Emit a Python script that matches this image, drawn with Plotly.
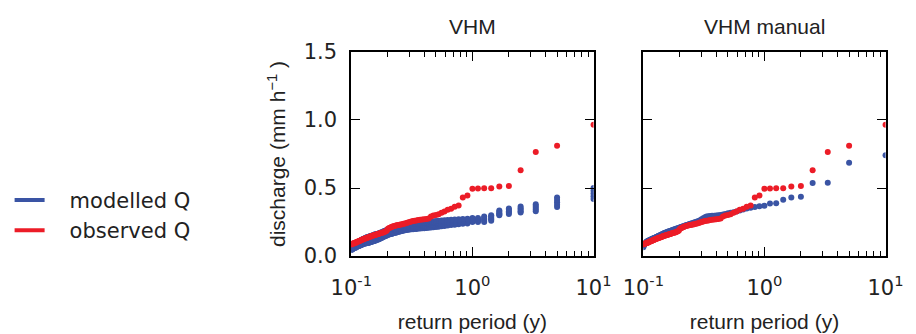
import plotly.graph_objects as go

# return periods (years) of the ranked events
return_period = [10.0, 5.0, 3.333, 2.5, 2.0, 1.667, 1.429, 1.25, 1.111, 1.0,
                 0.909, 0.833, 0.769, 0.714, 0.667, 0.625, 0.588, 0.556, 0.526, 0.5,
                 0.476, 0.455, 0.435, 0.417, 0.4, 0.385, 0.37, 0.357, 0.345, 0.333,
                 0.323, 0.3125, 0.303, 0.294, 0.286, 0.278, 0.27, 0.263, 0.256, 0.25,
                 0.244, 0.238, 0.233, 0.227, 0.222, 0.217, 0.213, 0.208, 0.204, 0.2,
                 0.196, 0.192, 0.189, 0.185, 0.182, 0.179, 0.175, 0.172, 0.169, 0.167,
                 0.164, 0.161, 0.159, 0.156, 0.154, 0.152, 0.149, 0.147, 0.145, 0.143,
                 0.141, 0.139, 0.137, 0.135, 0.133, 0.132, 0.13, 0.128, 0.127, 0.125,
                 0.123, 0.122, 0.12, 0.119, 0.118, 0.116, 0.115, 0.114, 0.112, 0.111,
                 0.11, 0.109, 0.108, 0.106, 0.105, 0.104, 0.103, 0.102, 0.101, 0.1]

observed_q = [0.965, 0.81, 0.765, 0.63, 0.515, 0.512, 0.498, 0.498, 0.497, 0.495,
              0.445, 0.43, 0.372, 0.362, 0.348, 0.34, 0.328, 0.318, 0.308, 0.302,
              0.298, 0.29, 0.276, 0.272, 0.27, 0.268, 0.267, 0.265, 0.262, 0.26,
              0.257, 0.254, 0.25, 0.247, 0.244, 0.24, 0.237, 0.234, 0.232, 0.23,
              0.228, 0.226, 0.224, 0.222, 0.22, 0.216, 0.212, 0.208, 0.205, 0.2,
              0.186, 0.182, 0.179, 0.176, 0.173, 0.171, 0.169, 0.167, 0.165, 0.163,
              0.161, 0.159, 0.157, 0.155, 0.153, 0.151, 0.149, 0.147, 0.145, 0.143,
              0.141, 0.139, 0.137, 0.135, 0.133, 0.131, 0.129, 0.127, 0.125, 0.123,
              0.121, 0.119, 0.117, 0.115, 0.113, 0.111, 0.109, 0.107, 0.105, 0.103,
              0.101, 0.099, 0.097, 0.095, 0.094, 0.093, 0.092, 0.09, 0.088, 0.085]

# VHM ensemble (five parameter sets)
vhm_run1 = [0.50, 0.43, 0.38, 0.365, 0.35, 0.335, 0.30, 0.29, 0.28, 0.28,
            0.275, 0.273, 0.271, 0.269, 0.267, 0.265, 0.263, 0.262, 0.26, 0.258,
            0.256, 0.254, 0.251, 0.248, 0.245, 0.243, 0.241, 0.24, 0.238, 0.237,
            0.236, 0.235, 0.232, 0.229, 0.226, 0.224, 0.222, 0.22, 0.218, 0.215,
            0.213, 0.211, 0.209, 0.207, 0.205, 0.203, 0.201, 0.199, 0.197, 0.195,
            0.191, 0.188, 0.185, 0.182, 0.179, 0.176, 0.173, 0.17, 0.167, 0.165,
            0.163, 0.161, 0.16, 0.158, 0.156, 0.154, 0.152, 0.15, 0.148, 0.146,
            0.144, 0.142, 0.14, 0.138, 0.136, 0.134, 0.132, 0.13, 0.128, 0.125,
            0.122, 0.119, 0.116, 0.113, 0.11, 0.107, 0.104, 0.102, 0.1, 0.098,
            0.096, 0.094, 0.092, 0.09, 0.088, 0.086, 0.084, 0.082, 0.08, 0.078]
vhm_run2 = [0.48, 0.412, 0.368, 0.352, 0.34, 0.325, 0.29, 0.28, 0.272, 0.272,
            0.266, 0.264, 0.261, 0.259, 0.257, 0.255, 0.252, 0.251, 0.249, 0.247,
            0.245, 0.243, 0.24, 0.238, 0.235, 0.233, 0.231, 0.23, 0.228, 0.227,
            0.226, 0.225, 0.223, 0.22, 0.217, 0.215, 0.213, 0.211, 0.209, 0.206,
            0.204, 0.202, 0.2, 0.197, 0.195, 0.193, 0.191, 0.189, 0.187, 0.185,
            0.181, 0.178, 0.175, 0.172, 0.168, 0.165, 0.162, 0.159, 0.156, 0.154,
            0.152, 0.15, 0.148, 0.146, 0.144, 0.142, 0.14, 0.138, 0.136, 0.134,
            0.133, 0.131, 0.129, 0.127, 0.125, 0.124, 0.122, 0.12, 0.118, 0.115,
            0.113, 0.11, 0.107, 0.104, 0.102, 0.099, 0.096, 0.094, 0.092, 0.09,
            0.088, 0.086, 0.084, 0.082, 0.08, 0.078, 0.076, 0.074, 0.072, 0.069]
vhm_run3 = [0.46, 0.395, 0.355, 0.34, 0.33, 0.315, 0.28, 0.27, 0.265, 0.265,
            0.258, 0.255, 0.252, 0.25, 0.247, 0.245, 0.242, 0.24, 0.238, 0.236,
            0.234, 0.232, 0.23, 0.228, 0.225, 0.223, 0.222, 0.221, 0.219, 0.218,
            0.217, 0.216, 0.214, 0.212, 0.209, 0.207, 0.205, 0.203, 0.2, 0.198,
            0.195, 0.193, 0.191, 0.188, 0.186, 0.184, 0.181, 0.179, 0.177, 0.175,
            0.171, 0.168, 0.165, 0.162, 0.158, 0.155, 0.152, 0.149, 0.146, 0.143,
            0.141, 0.139, 0.137, 0.135, 0.133, 0.131, 0.129, 0.127, 0.125, 0.123,
            0.122, 0.12, 0.118, 0.117, 0.115, 0.114, 0.112, 0.111, 0.109, 0.106,
            0.104, 0.101, 0.099, 0.096, 0.094, 0.091, 0.089, 0.087, 0.085, 0.083,
            0.081, 0.079, 0.077, 0.075, 0.073, 0.071, 0.069, 0.066, 0.064, 0.061]
vhm_run4 = [0.44, 0.378, 0.342, 0.33, 0.32, 0.307, 0.27, 0.26, 0.257, 0.257,
            0.249, 0.246, 0.243, 0.24, 0.237, 0.235, 0.232, 0.229, 0.227, 0.224,
            0.223, 0.221, 0.219, 0.217, 0.215, 0.213, 0.212, 0.211, 0.209, 0.208,
            0.207, 0.207, 0.205, 0.203, 0.2, 0.198, 0.196, 0.194, 0.191, 0.189,
            0.186, 0.184, 0.181, 0.179, 0.176, 0.174, 0.171, 0.169, 0.167, 0.165,
            0.161, 0.158, 0.155, 0.152, 0.148, 0.145, 0.142, 0.138, 0.135, 0.132,
            0.13, 0.128, 0.126, 0.124, 0.122, 0.12, 0.118, 0.116, 0.114, 0.112,
            0.111, 0.109, 0.107, 0.106, 0.105, 0.104, 0.102, 0.101, 0.099, 0.097,
            0.095, 0.092, 0.09, 0.088, 0.086, 0.083, 0.081, 0.079, 0.077, 0.075,
            0.073, 0.071, 0.069, 0.067, 0.065, 0.063, 0.061, 0.058, 0.056, 0.053]
vhm_run5 = [0.42, 0.36, 0.33, 0.32, 0.31, 0.30, 0.26, 0.25, 0.25, 0.25,
            0.24, 0.237, 0.234, 0.231, 0.228, 0.225, 0.222, 0.219, 0.216, 0.213,
            0.212, 0.211, 0.209, 0.207, 0.205, 0.204, 0.203, 0.202, 0.2, 0.199,
            0.198, 0.198, 0.196, 0.194, 0.192, 0.19, 0.188, 0.185, 0.183, 0.18,
            0.177, 0.175, 0.172, 0.17, 0.167, 0.165, 0.162, 0.16, 0.158, 0.155,
            0.152, 0.148, 0.145, 0.142, 0.138, 0.135, 0.132, 0.128, 0.125, 0.122,
            0.12, 0.118, 0.115, 0.113, 0.111, 0.109, 0.107, 0.105, 0.103, 0.101,
            0.1, 0.098, 0.097, 0.096, 0.095, 0.094, 0.093, 0.092, 0.09, 0.088,
            0.086, 0.084, 0.082, 0.08, 0.078, 0.076, 0.074, 0.072, 0.07, 0.068,
            0.066, 0.064, 0.062, 0.06, 0.058, 0.056, 0.054, 0.051, 0.048, 0.045]

# VHM manual calibration (single run)
vhm_manual = [0.741, 0.686, 0.539, 0.537, 0.436, 0.43, 0.414, 0.389, 0.387, 0.37,
              0.366, 0.36, 0.355, 0.35, 0.342, 0.335, 0.328, 0.322, 0.318, 0.314,
              0.31, 0.306, 0.302, 0.3, 0.298, 0.297, 0.296, 0.294, 0.292, 0.29,
              0.285, 0.278, 0.27, 0.264, 0.258, 0.254, 0.25, 0.246, 0.243, 0.24,
              0.237, 0.234, 0.231, 0.228, 0.225, 0.222, 0.219, 0.216, 0.213, 0.21,
              0.207, 0.205, 0.202, 0.2, 0.197, 0.195, 0.192, 0.19, 0.187, 0.185,
              0.182, 0.18, 0.178, 0.176, 0.174, 0.172, 0.169, 0.166, 0.163, 0.16,
              0.158, 0.155, 0.153, 0.15, 0.148, 0.146, 0.143, 0.141, 0.138, 0.135,
              0.133, 0.131, 0.129, 0.127, 0.125, 0.123, 0.121, 0.119, 0.117, 0.115,
              0.113, 0.111, 0.11, 0.106, 0.1, 0.095, 0.09, 0.085, 0.078, 0.065]

panel_titles = ["VHM", "VHM manual"]
legend_labels = ["modelled Q", "observed Q"]
x_tickvals = [0.1, 1, 10]
x_ticktext = ["10<sup>-1</sup>", "10<sup>0</sup>", "10<sup>1</sup>"]
y_tickvals = [0.0, 0.5, 1.0, 1.5]
y_ticktext = ["0.0", "0.5", "1.0", "1.5"]

BLUE = "#3A54A4"
RED = "#EC1C27"
TXT = "#222222"
TICKF = 21
LABF = 21

fig = go.Figure()
mk_b = dict(color=BLUE, size=6)
mk_r = dict(color=RED, size=6)

for run in (vhm_run5, vhm_run4, vhm_run3, vhm_run2, vhm_run1):
    fig.add_trace(go.Scatter(x=return_period, y=run, mode="markers", marker=mk_b,
                             showlegend=False, xaxis="x", yaxis="y"))
fig.add_trace(go.Scatter(x=return_period, y=observed_q, mode="markers", marker=mk_r,
                         showlegend=False, xaxis="x", yaxis="y"))
fig.add_trace(go.Scatter(x=return_period, y=vhm_manual, mode="markers", marker=mk_b,
                         showlegend=False, xaxis="x2", yaxis="y2"))
fig.add_trace(go.Scatter(x=return_period, y=observed_q, mode="markers", marker=mk_r,
                         showlegend=False, xaxis="x2", yaxis="y2"))
# legend entries
fig.add_trace(go.Scatter(x=[None], y=[None], mode="lines", line=dict(color=BLUE, width=4),
                         name="\u00a0\u00a0\u00a0" + legend_labels[0], xaxis="x", yaxis="y"))
fig.add_trace(go.Scatter(x=[None], y=[None], mode="lines", line=dict(color=RED, width=4),
                         name="\u00a0\u00a0\u00a0" + legend_labels[1], xaxis="x", yaxis="y"))

W, H = 916, 334
ydom = [1 - 263 / H, 1 - 43 / H]

def xax(domain):
    return dict(domain=domain, type="log", range=[-1, 1], tickvals=x_tickvals,
                ticktext=x_ticktext, ticks="inside", ticklen=9, tickwidth=1.2,
                tickcolor="black", showline=True, linewidth=2, linecolor="black",
                mirror="allticks", showgrid=False, zeroline=False,
                ticklabelstandoff=12,
                tickfont=dict(family="DejaVu Sans", size=TICKF, color=TXT),
                minor=dict(ticks="inside", ticklen=5, tickwidth=1, tickcolor="black",
                           dtick="D1", showgrid=False),
                title=dict(text="return period (y)", standoff=15,
                           font=dict(family="Liberation Sans", size=LABF, color=TXT)))

def yax(anchor, labels):
    d = dict(domain=ydom, range=[0, 1.5], tickvals=y_tickvals, ticktext=y_ticktext,
             ticks="inside", ticklen=9, tickwidth=1.2, tickcolor="black",
             showline=True, linewidth=2, linecolor="black", mirror="allticks",
             showgrid=False, zeroline=False, anchor=anchor, showticklabels=labels,
             ticklabelstandoff=8,
             tickfont=dict(family="DejaVu Sans", size=TICKF, color=TXT))
    return d

ya = yax("x", True)
ya["title"] = dict(text="discharge (mm h<sup>\u22121</sup> )", standoff=12,
                   font=dict(family="Liberation Sans", size=LABF, color=TXT))

fig.update_layout(
    width=W, height=H, margin=dict(l=0, r=0, t=0, b=0),
    plot_bgcolor="white", paper_bgcolor="white",
    xaxis=dict(**xax([345 / W, 598 / W]), anchor="y"),
    yaxis=ya,
    xaxis2=dict(**xax([650 / W, 903 / W]), anchor="y2"),
    yaxis2=yax("x2", False),
    legend=dict(x=-0.013, y=1 - 219 / H, xanchor="left", yanchor="middle",
                font=dict(family="DejaVu Sans", size=21, color=TXT),
                bgcolor="rgba(0,0,0,0)", tracegroupgap=0),
    annotations=[
        dict(text=panel_titles[0], x=(345 + 598) / 2 / W, y=1 - 16 / H, xref="paper",
             yref="paper", showarrow=False, xanchor="center", yanchor="middle",
             font=dict(family="Liberation Sans", size=LABF, color=TXT)),
        dict(text=panel_titles[1], x=(650 + 903) / 2 / W, y=1 - 16 / H, xref="paper",
             yref="paper", showarrow=False, xanchor="center", yanchor="middle",
             font=dict(family="Liberation Sans", size=LABF, color=TXT)),
    ],
)

fig.write_html("out.html")
